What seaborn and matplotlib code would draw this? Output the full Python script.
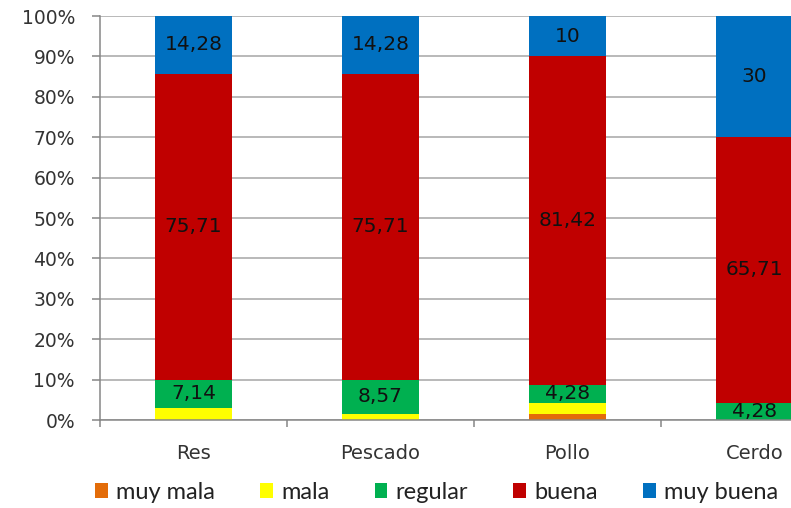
import numpy as np
import pandas as pd
import matplotlib
matplotlib.use("Agg")
import matplotlib.pyplot as plt
from matplotlib.patches import Patch
from matplotlib.ticker import FixedLocator, PercentFormatter
import seaborn as sns

# Valoración por tipo de carne (% de respuestas)
categorias = ["Res", "Pescado", "Pollo", "Cerdo"]
muy_mala = [0.0, 0.0, 1.43, 0.0]
mala = [2.87, 1.43, 2.87, 0.0]
regular = [7.14, 8.57, 4.28, 4.28]
buena = [75.71, 75.71, 81.42, 65.71]
muy_buena = [14.28, 14.28, 10.0, 30.0]

series = ["muy mala", "mala", "regular", "buena", "muy buena"]
valores = [muy_mala, mala, regular, buena, muy_buena]
colores = ["#E36C09", "#FFFF00", "#00B050", "#C00000", "#0070C0"]
con_etiqueta = ["regular", "buena", "muy buena"]

sns.set_style("white")
plt.rcParams["font.family"] = ["DejaVu Sans"]

fig = plt.figure(figsize=(7.91, 5.08), dpi=100)
# plot area runs past the right edge of the canvas
ax = fig.add_axes([100 / 791, 88 / 508, 748 / 791, 404 / 508])

df = pd.DataFrame({s: v for s, v in zip(series, valores)}, index=categorias)
acum = df.cumsum(axis=1)

# stacked bars: draw cumulative totals from the top layer down
for s, c in reversed(list(zip(series, colores))):
    sns.barplot(x=categorias, y=acum[s].values, color=c, saturation=1,
                width=0.41, linewidth=0, edgecolor="none", ax=ax, zorder=2)

# value labels centred on each segment
for s in con_etiqueta:
    base = acum[s] - df[s]
    for i, cat in enumerate(categorias):
        v = df.loc[cat, s]
        if v <= 0:
            continue
        txt = f"{v:g}".replace(".", ",")
        ax.text(i, base.iloc[i] + v / 2, txt, ha="center", va="center",
                fontsize=14.5, color="#111111", zorder=3)

ax.set_xlim(-0.5, 3.5)
ax.set_ylim(0, 100)
ax.set_xlabel("")
ax.set_ylabel("")

ax.yaxis.set_major_locator(FixedLocator(np.arange(0, 101, 10)))
ax.yaxis.set_major_formatter(PercentFormatter(decimals=0))
ax.grid(axis="y", color="#A6A6A6", linewidth=1.1, zorder=0)
ax.set_axisbelow(True)

ax.tick_params(axis="y", which="major", direction="out", length=6, width=1.1,
               color="#868686", pad=12, labelsize=13.5, labelcolor="#333333", left=True)
ax.set_xticks(range(len(categorias)))
ax.set_xticklabels(categorias)
ax.tick_params(axis="x", which="major", length=0, pad=17, labelsize=14,
               labelcolor="#333333")
ax.xaxis.set_minor_locator(FixedLocator(np.arange(-0.5, 3.6, 1.0)))
ax.tick_params(axis="x", which="minor", direction="out", length=5, width=1.1,
               color="#868686", bottom=True)

for side in ["top", "right"]:
    ax.spines[side].set_visible(False)
for side in ["left", "bottom"]:
    ax.spines[side].set_color("#868686")
    ax.spines[side].set_linewidth(1.1)

handles = [Patch(facecolor=c, edgecolor="none", label=s) for s, c in zip(series, colores)]
fig.legend(handles=handles, loc="center", bbox_to_anchor=(0.552, 0.031), ncol=5,
           frameon=False, prop={"family": "Lato", "size": 17}, handlelength=0.55,
           handleheight=0.55, handletextpad=0.35, columnspacing=1.9,
           labelcolor="#222222")

fig.savefig("out.png", dpi=100, facecolor="white")
